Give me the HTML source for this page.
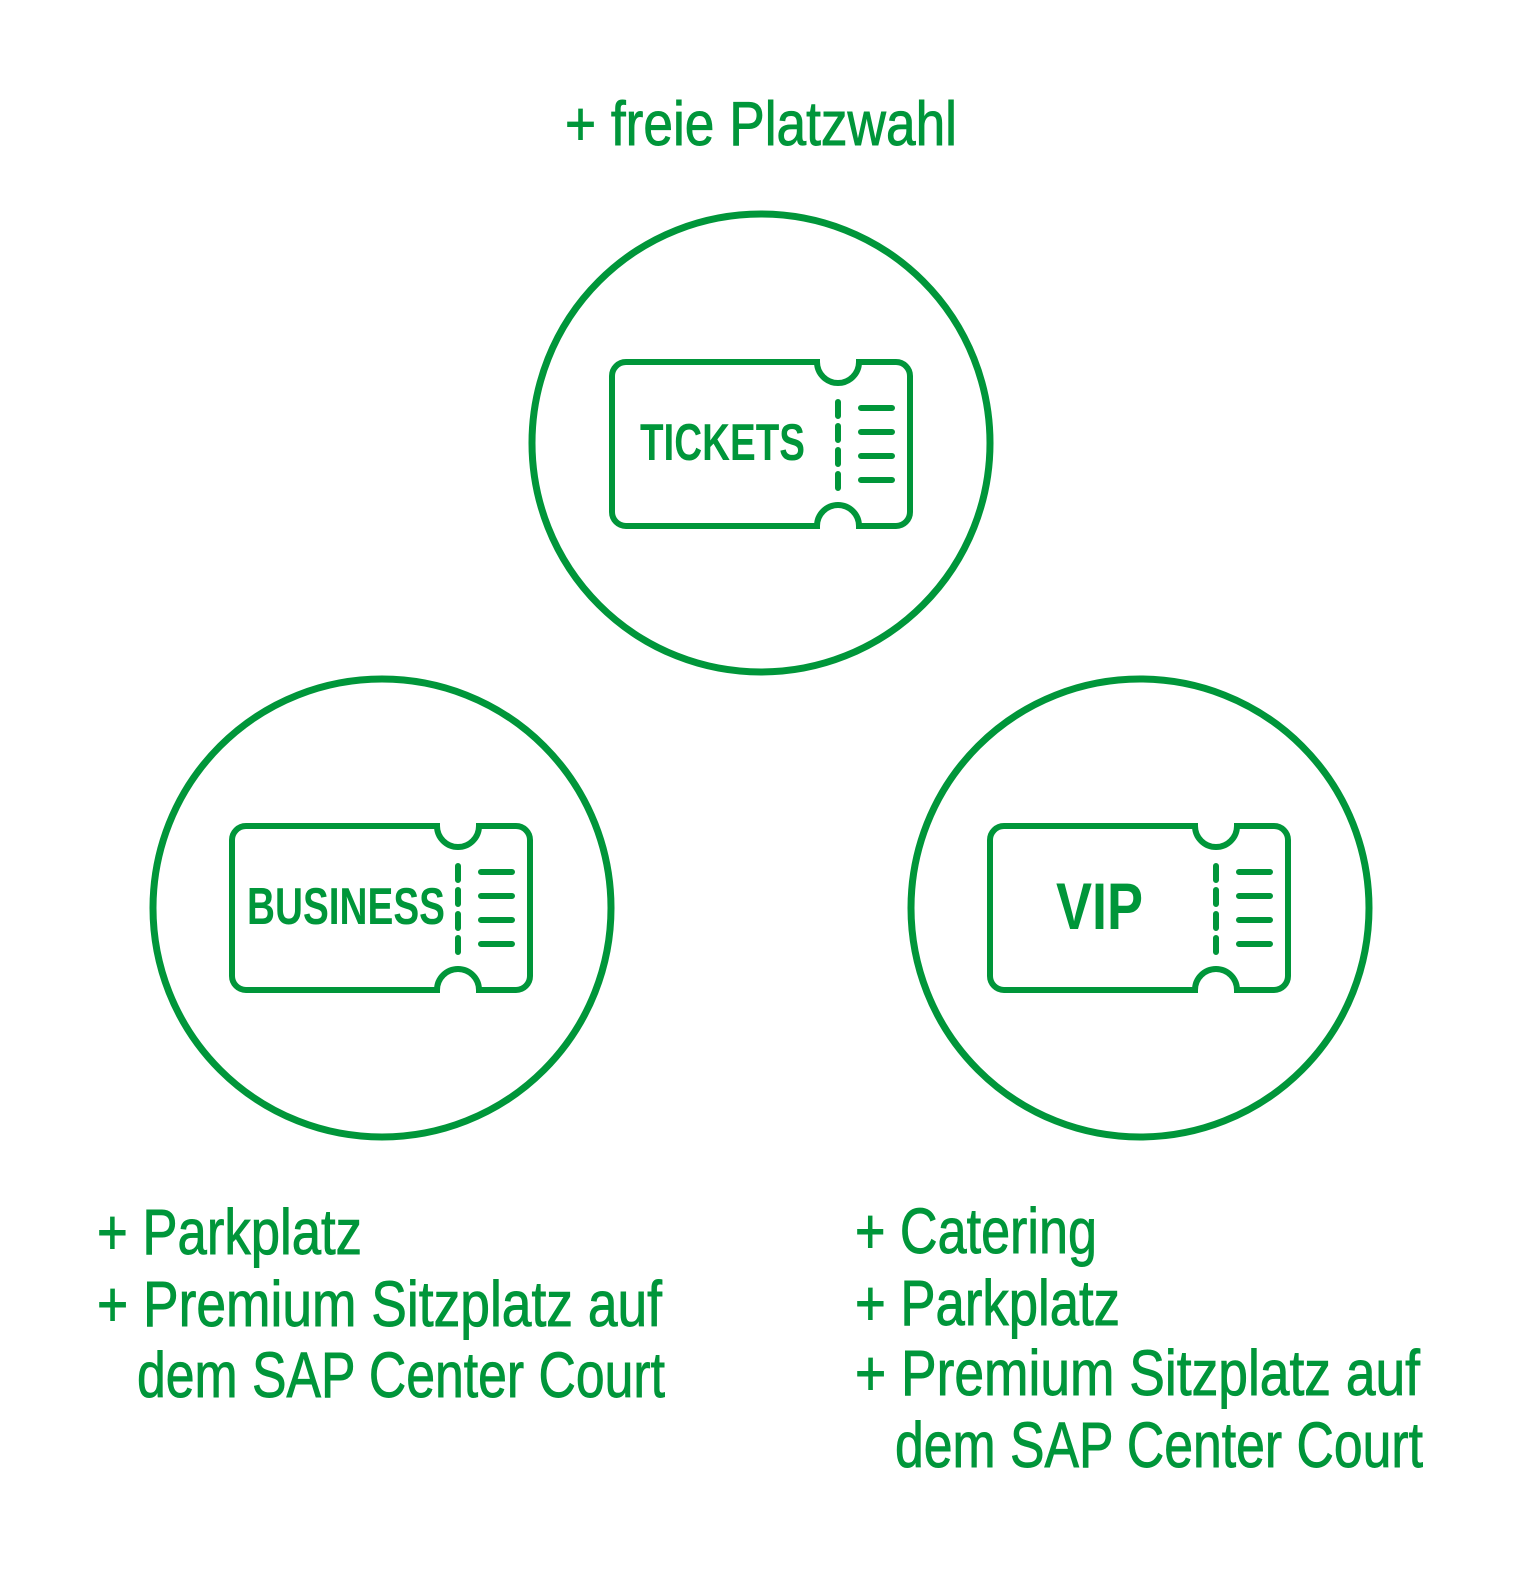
<!DOCTYPE html>
<html><head><meta charset="utf-8"><style>
html,body{margin:0;padding:0;background:#fff}
svg{display:block}
text{font-family:"Liberation Sans",sans-serif;fill:#00963a}
.r{stroke:#00963a;stroke-width:0.9}
</style></head><body>
<svg width="1538" height="1584" viewBox="0 0 1538 1584" xmlns="http://www.w3.org/2000/svg">
<defs>
<g id="tk" fill="none" stroke="#00963a" stroke-width="6" stroke-linecap="round">
<path d="M14,0 H205 A21,21 0 0 0 247,0 H284 A14,14 0 0 1 298,14 V150 A14,14 0 0 1 284,164 H247 A21,21 0 0 0 205,164 H14 A14,14 0 0 1 0,150 V14 A14,14 0 0 1 14,0 Z"/>
<path d="M226,40 V54 M226,64 V78 M226,88 V102 M226,112 V126"/>
<path d="M249,46 H280 M249,70 H280 M249,94 H280 M249,118 H280"/>
</g>
</defs>
<g fill="none" stroke="#00963a" stroke-width="7">
<circle cx="761" cy="443" r="229"/>
<circle cx="382" cy="908" r="229"/>
<circle cx="1140" cy="908" r="229"/>
</g>
<use href="#tk" x="612" y="362"/>
<use href="#tk" x="232" y="826"/>
<use href="#tk" x="990" y="826"/>
<text x="640" y="460" font-size="52" font-weight="bold" textLength="165" lengthAdjust="spacingAndGlyphs">TICKETS</text>
<text x="247" y="924" font-size="52" font-weight="bold" textLength="198" lengthAdjust="spacingAndGlyphs">BUSINESS</text>
<text x="1056" y="929" font-size="66" font-weight="bold" textLength="87" lengthAdjust="spacingAndGlyphs">VIP</text>

<text class="r" x="565" y="145" font-size="62" textLength="392" lengthAdjust="spacingAndGlyphs">+ freie Platzwahl</text>

<text class="r" x="97" y="1254" font-size="64" textLength="265" lengthAdjust="spacingAndGlyphs">+ Parkplatz</text>
<text class="r" x="97" y="1326" font-size="64" textLength="565" lengthAdjust="spacingAndGlyphs">+ Premium Sitzplatz auf</text>
<text class="r" x="137" y="1397" font-size="64" textLength="528" lengthAdjust="spacingAndGlyphs">dem SAP Center Court</text>

<text class="r" x="855" y="1253" font-size="64" textLength="242" lengthAdjust="spacingAndGlyphs">+ Catering</text>
<text class="r" x="855" y="1325" font-size="64" textLength="265" lengthAdjust="spacingAndGlyphs">+ Parkplatz</text>
<text class="r" x="855" y="1395" font-size="64" textLength="565" lengthAdjust="spacingAndGlyphs">+ Premium Sitzplatz auf</text>
<text class="r" x="895" y="1467" font-size="64" textLength="528" lengthAdjust="spacingAndGlyphs">dem SAP Center Court</text>
</svg>
</body></html>
